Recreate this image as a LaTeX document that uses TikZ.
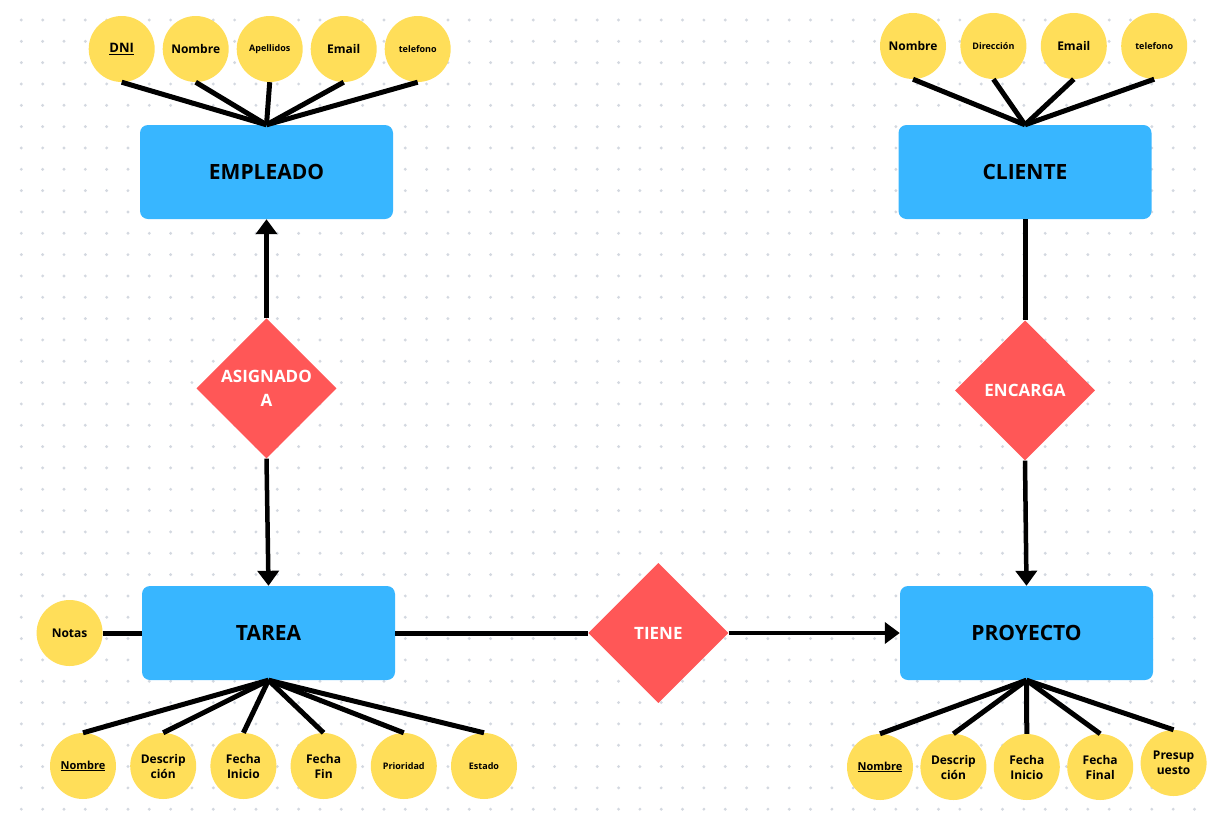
\documentclass[tikz,border=0pt]{standalone}
\usepackage{fontspec}
\setmainfont{Open Sans}
\usepackage{tikz}
\usetikzlibrary{shapes.geometric, arrows.meta, positioning}

\definecolor{entblue}{HTML}{38B6FF}
\definecolor{relred}{HTML}{FF5757}
\definecolor{attryellow}{HTML}{FFDE59}
\definecolor{dotgrey}{HTML}{D3D8E0}

\begin{document}
\begin{tikzpicture}[
    x=1pt, y=-1pt,
    box/.style={rectangle, rounded corners=8pt, fill=entblue, minimum width=253pt, minimum height=94pt, align=center, font=\fontsize{21}{25}\selectfont\bfseries},
    rel/.style={diamond, fill=relred, minimum width=140pt, minimum height=140pt, inner sep=0pt, align=center, text=white, font=\fontsize{17}{24}\selectfont\bfseries},
    attr/.style={circle, fill=attryellow, minimum size=66pt, inner sep=0pt, align=center, font=\fontsize{12}{15}\selectfont\bfseries},
    smallattr/.style={font=\fontsize{9}{12}\selectfont\bfseries},
    link/.style={line width=5pt},
    arrow/.style={line width=4.5pt, -{Triangle[width=21pt, length=15pt]}}
]
    % Canvas
    \fill[white] (0,0) rectangle (1216,812);
    \useasboundingbox (0,0) rectangle (1216,812);
    \foreach \i in {1,...,56}
        \foreach \j in {0,...,37}
            \fill[dotgrey] (21.33*\i, 20+21.33*\j) circle (1.6pt);

    % Entities
    \node[box] (empleado) at (266.5,172) {EMPLEADO};
    \node[box] (cliente) at (1025,172) {CLIENTE};
    \node[box] (tarea) at (268.5,633) {TAREA};
    \node[box] (proyecto) at (1026.5,633) {PROYECTO};

    % Relations
    \node[rel, below=99pt of empleado] (asignado) {ASIGNADO\\A};
    \node[rel, below=101pt of cliente] (encarga) {ENCARGA};
    \node[rel, right=193pt of tarea] (tiene) {TIENE};

    % Empleado attributes
    \node[attr] (edni) at (121.7,49) {\fontsize{13}{15}\selectfont\underline{DNI}};
    \node[attr, right=7.6pt of edni] (enombre) {Nombre};
    \node[attr, smallattr, right=7.6pt of enombre] (eapellidos) {Apellidos};
    \node[attr, right=7.6pt of eapellidos] (eemail) {Email};
    \node[attr, smallattr, right=7.6pt of eemail] (etelefono) {telefono};

    % Cliente attributes
    \node[attr] (cnombre) at (913,46) {Nombre};
    \node[attr, smallattr, right=14pt of cnombre] (cdireccion) {Dirección};
    \node[attr, right=14pt of cdireccion] (cemail) {Email};
    \node[attr, smallattr, right=14pt of cemail] (ctelefono) {telefono};

    % Tarea attributes
    \node[attr, left=39pt of tarea] (tnotas) {Notas};
    \node[attr, font=\fontsize{11}{14}\selectfont\bfseries] (tnombre) at (83,766) {\underline{Nombre}};
    \node[attr, right=13.8pt of tnombre] (tdesc) {Descrip\\ción};
    \node[attr, right=13.8pt of tdesc] (tinicio) {Fecha\\Inicio};
    \node[attr, right=13.8pt of tinicio] (tfin) {Fecha\\Fin};
    \node[attr, smallattr, right=13.8pt of tfin] (tprioridad) {Prioridad};
    \node[attr, smallattr, right=13.8pt of tprioridad] (testado) {Estado};

    % Proyecto attributes
    \node[attr, font=\fontsize{11}{14}\selectfont\bfseries] (pnombre) at (880,767) {\underline{Nombre}};
    \node[attr, right=7pt of pnombre] (pdesc) {Descrip\\ción};
    \node[attr, right=7pt of pdesc] (pinicio) {Fecha\\Inicio};
    \node[attr, right=7pt of pinicio] (pfinal) {Fecha\\Final};
    \node[attr, right=7pt of pfinal, yshift=4pt] (ppresupuesto) {Presup\\uesto};

    % Attribute links
    \foreach \a in {edni, enombre, eapellidos, eemail, etelefono}
        \draw[link] (\a.south) -- (empleado.north);
    \foreach \a in {cnombre, cdireccion, cemail, ctelefono}
        \draw[link] (\a.south) -- (cliente.north);
    \foreach \a in {tnombre, tdesc, tinicio, tfin, tprioridad, testado}
        \draw[link] (\a.north) -- (tarea.south);
    \foreach \a in {pnombre, pdesc, pinicio, pfinal, ppresupuesto}
        \draw[link] (\a.north) -- (proyecto.south);
    \draw[link] (tnotas) -- (tarea);

    % Relationship connectors
    \draw[arrow] (asignado.north) -- (empleado.south);
    \draw[arrow] (asignado.south) -- (tarea.north);
    \draw[link] (cliente.south) -- (encarga.north);
    \draw[arrow] (encarga.south) -- (proyecto.north);
    \draw[link] (tarea) -- (tiene);
    \draw[arrow] (tiene) -- (proyecto);

\end{tikzpicture}
\end{document}
